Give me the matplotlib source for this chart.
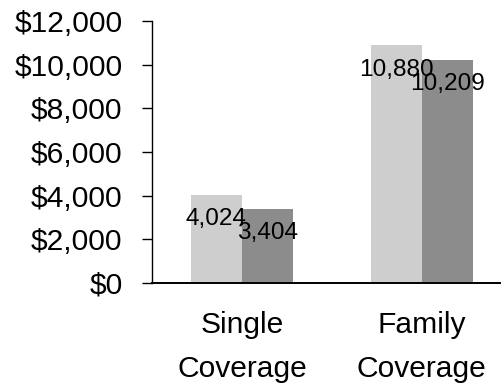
import matplotlib.pyplot as plt
import numpy as np

categories = ['Single\nCoverage', 'Family\nCoverage']
series_a = [4024, 10880]
series_b = [3404, 10209]
y_ticks = [0, 2000, 4000, 6000, 8000, 10000, 12000]

plt.rcParams['font.family'] = ['Liberation Sans', 'DejaVu Sans']

fig = plt.figure(figsize=(5.01, 3.85), dpi=100)
ax = fig.add_axes([0.3034, 0.265, 0.70, 0.6805])

x = np.arange(len(categories))
w = 0.283
bars_a = ax.bar(x - w / 2, series_a, w, color='#cecece')
bars_b = ax.bar(x + w / 2, series_b, w, color='#8c8c8c')

for bars, vals in [(bars_a, series_a), (bars_b, series_b)]:
    for b, v in zip(bars, vals):
        ax.annotate(f'{v:,}', (b.get_x() + b.get_width() / 2, v),
                    xytext=(0, -17.5), textcoords='offset points',
                    ha='center', va='center', fontsize=17.6, color='black')

ax.set_xlim(-0.5, 1.45)
ax.set_ylim(0, 12000)
ax.set_yticks(y_ticks)
ax.set_yticklabels([f'${v:,}' for v in y_ticks], fontsize=21.6)
ax.set_xticks(x)
ax.set_xticklabels(categories, fontsize=21.6, linespacing=1.75)
ax.tick_params(axis='y', direction='out', length=7.2, width=1, pad=14)
ax.tick_params(axis='x', length=0, pad=20)

ax.spines['top'].set_visible(False)
ax.spines['right'].set_visible(False)
ax.spines['left'].set_linewidth(1)
ax.spines['bottom'].set_linewidth(1.4)

fig.savefig('out.png', dpi=100)
